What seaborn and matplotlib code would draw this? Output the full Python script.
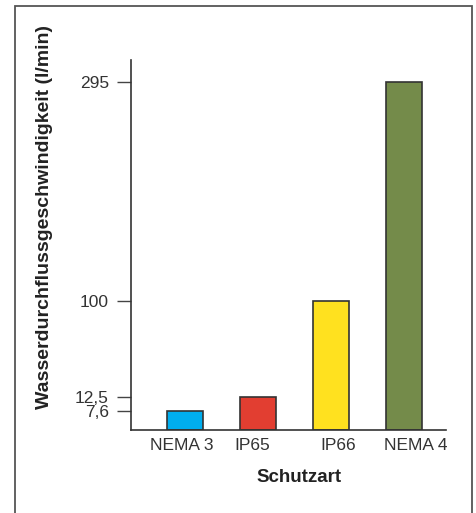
import numpy as np
import pandas as pd
import matplotlib
matplotlib.use('Agg')
import matplotlib.pyplot as plt
import matplotlib.transforms as mtransforms
import seaborn as sns
from matplotlib.patches import Rectangle

categories = ['NEMA 3', 'IP65', 'IP66', 'NEMA 4']
flow = [7.6, 12.5, 100, 295]
colors = ['#00AEEF', '#E23E31', '#FFE11F', '#748B4A']
ytick_values = [7.6, 12.5, 100, 295]
ytick_labels = ['7,6', '12,5', '100', '295']

# the original axis is not linear: value -> pixel height above the baseline
scale_values = [0, 7.6, 12.5, 100, 295, 400]
scale_pixels = [0, 19, 33, 129, 348, 466]


def forward(v):
    return np.interp(v, scale_values, scale_pixels)


def inverse(p):
    return np.interp(p, scale_pixels, scale_values)


sns.set_style('white')
plt.rcParams['font.family'] = ['Liberation Sans', 'DejaVu Sans']

df = pd.DataFrame({'schutzart': categories, 'flow': flow})

fig = plt.figure(figsize=(4.77, 5.13), dpi=100)
ax = fig.add_axes([131 / 477, 1 - 430 / 513, 315 / 477, 370 / 513])
ax.set_yscale('function', functions=(forward, inverse))

sns.barplot(data=df, x='schutzart', y='flow', hue='schutzart',
            palette=colors, legend=False, width=0.5, saturation=1,
            edgecolor='#333333', linewidth=1.2, ax=ax)

ax.set_xlim(-0.74, 3.575)
ax.set_ylim(0, inverse(370))
ax.set_yticks(ytick_values)
ax.set_yticklabels(ytick_labels)
ax.yaxis.set_minor_locator(matplotlib.ticker.NullLocator())
ax.tick_params(axis='y', length=10, width=1, color='#444444', pad=6,
               labelsize=12.5, labelcolor='#333333', left=True)
ax.tick_params(axis='x', length=0, pad=6, labelsize=12.5, labelcolor='#333333')

# labels in the original are not exactly centred under the bars
shifts = [-3, -6, 7, 12]
for lab, dx in zip(ax.get_xticklabels(), shifts):
    lab.set_transform(lab.get_transform() +
                      mtransforms.ScaledTranslation(dx / 100, 0, fig.dpi_scale_trans))

for side in ['top', 'right']:
    ax.spines[side].set_visible(False)
for side in ['left', 'bottom']:
    ax.spines[side].set_color('#333333')
    ax.spines[side].set_linewidth(1.2)

ax.set_ylabel('')
ax.set_xlabel('Schutzart', fontsize=13.5, fontweight='bold', color='#222222',
              labelpad=8)
ax.xaxis.set_label_coords(0.535, -0.105)

fig.text(45 / 477, 1 - 217 / 513, 'Wasserdurchflussgeschwindigkeit (l/min)',
         rotation=90, ha='center', va='center', fontsize=14,
         fontweight='bold', color='#222222')

# frame around the figure
fig.patches.append(Rectangle((15 / 477, -0.05), 457 / 477, 1.05 - 6 / 513,
                             transform=fig.transFigure, fill=False,
                             edgecolor='#555555', linewidth=1.3))

fig.savefig('out.png', dpi=100)
